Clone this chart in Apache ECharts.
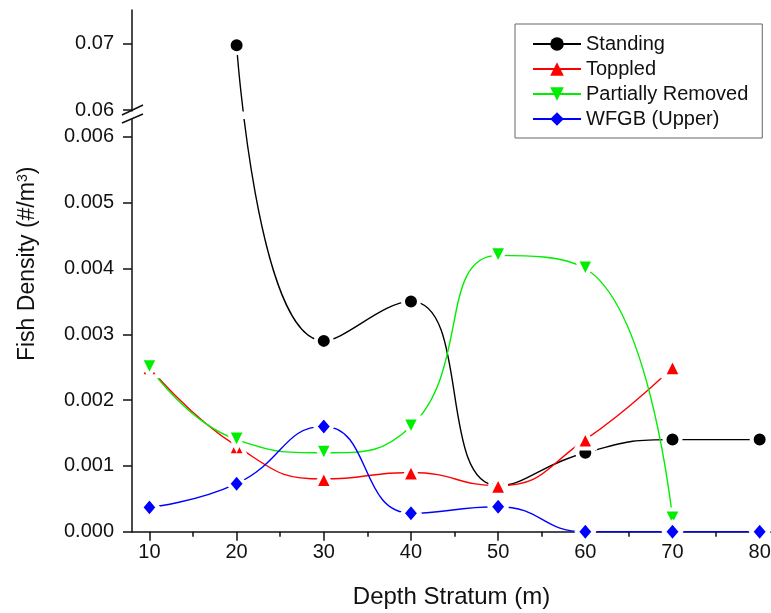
<!DOCTYPE html>
<html><head><meta charset="utf-8">
<script src="https://cdn.jsdelivr.net/npm/echarts@6/dist/echarts.min.js"></script>
<style>html,body{margin:0;padding:0;background:#fff}#c{width:771px;height:613px}</style>
</head><body><div id="c"></div>
<script>
// ---- data ----
const depths = [10, 20, 30, 40, 50, 60, 70, 80];
const standing = [null, 0.0697, 0.0029, 0.0035, 0.0007, 0.0012, 0.0014, 0.0014];
const toppled = [0.0025, 0.0013, 0.0008, 0.0009, 0.0007, 0.0014, 0.0025, null];
const partiallyRemoved = [0.0025, 0.0014, 0.0012, 0.0016, 0.0042, 0.0040, 0.0002, null];
const wfgbUpper = [0.00037, 0.00073, 0.0016, 0.00028, 0.00038, 0, 0, 0];
const xTicks = [10, 20, 30, 40, 50, 60, 70, 80];
const xMinorTicks = [15, 25, 35, 45, 55, 65, 75];
const yTicksLower = [0, 0.001, 0.002, 0.003, 0.004, 0.005, 0.006];
const yTicksUpper = [0.06, 0.07];
const seriesNames = ['Standing', 'Toppled', 'Partially Removed', 'WFGB (Upper)'];

// ---- broken y axis: lower segment 0..0.0062 linear, upper segment 0.06.. compressed ----
const UP_BASE = 0.06, UP_D0 = 0.0064088, UP_K = 0.10137, Y_MAX = 0.0079286;
function toAxis(v) { return v < 0.03 ? v : UP_D0 + (v - UP_BASE) * UP_K; }
function fromAxis(d) { return d > 0.0063 ? (d - UP_D0) / UP_K + UP_BASE : d; }
const yTickPos = yTicksLower.concat(yTicksUpper).map(toAxis);

function pairs(vals) {
  const out = [];
  depths.forEach((x, i) => { if (vals[i] !== null) out.push([x, toAxis(vals[i])]); });
  return out;
}

const FONT = "'Liberation Sans', Arial, sans-serif";
const chart = echarts.init(document.getElementById('c'), null, { renderer: 'canvas' });

function lineSeries(name, vals, color, symbol, size, rotate) {
  return {
    type: 'line', name: name, data: pairs(vals),
    smooth: 0.5, symbol: symbol, symbolSize: size, symbolRotate: rotate || 0,
    lineStyle: { color: color, width: 1.4 },
    itemStyle: { color: color, borderColor: '#fff', borderWidth: 4 },
    emphasis: { disabled: true }
  };
}

const option = {
  animation: false,
  backgroundColor: '#fff',
  textStyle: { fontFamily: FONT },
  grid: { left: 132, right: 0, top: 10, bottom: 81.3, containLabel: false, outerBoundsMode: 'none' },
  legend: {
    orient: 'vertical', left: 515, top: 24,
    padding: [10, 14, 9, 17], itemGap: 5, itemWidth: 48, itemHeight: 17,
    backgroundColor: '#fff', borderColor: '#666', borderWidth: 1, z: 20,
    textStyle: { fontSize: 20, fontFamily: FONT, color: '#111', lineHeight: 20 },
    itemStyle: { borderWidth: 0 },
    data: seriesNames
  },
  xAxis: [{
    type: 'value', min: 8, max: 81.3,
    axisLine: { lineStyle: { color: '#111', width: 1.5 } },
    axisTick: { customValues: xTicks, length: 9, lineStyle: { color: '#111', width: 1.5 } },
    axisLabel: { customValues: xTicks, fontSize: 20, color: '#111', margin: 11, fontFamily: FONT },
    splitLine: { show: false },
    name: 'Depth Stratum (m)', nameLocation: 'middle', nameGap: 54,
    nameTextStyle: { fontSize: 24, color: '#111', fontFamily: FONT }
  }, {
    type: 'value', min: 8, max: 81.3, position: 'bottom', offset: 0,
    axisLine: { show: false },
    axisTick: { customValues: xMinorTicks, length: 5, lineStyle: { color: '#111', width: 1.5 } },
    axisLabel: { show: false }, splitLine: { show: false }
  }],
  yAxis: {
    type: 'value', min: 0, max: Y_MAX,
    axisLine: { show: true, lineStyle: { color: '#111', width: 1.5 } },
    axisTick: { show: true, customValues: yTickPos, length: 9, lineStyle: { color: '#111', width: 1.5 } },
    axisLabel: {
      customValues: yTickPos, fontSize: 20, color: '#111', margin: 18, fontFamily: FONT,
      formatter: function (value) {
        const v = fromAxis(value);
        return value > 0.0063 ? v.toFixed(2) : v.toFixed(3);
      }
    },
    splitLine: { show: false },
    name: 'Fish Density (#/m{sup|3})', nameLocation: 'middle', nameGap: 93,
    nameTextStyle: {
      fontSize: 23, color: '#111', fontFamily: FONT, padding: [0, 0, 0, 14],
      rich: { sup: { fontSize: 14, verticalAlign: 'top', lineHeight: 23, padding: [0, 0, 12, 0], fontFamily: FONT, color: '#111' } }
    }
  },
  series: [
    lineSeries(seriesNames[0], standing, '#000000', 'circle', 16),
    lineSeries(seriesNames[1], toppled, '#ff0000', 'triangle', 18),
    lineSeries(seriesNames[2], partiallyRemoved, '#00ee00', 'triangle', 18, 180),
    lineSeries(seriesNames[3], wfgbUpper, '#0000ff', 'diamond', [17, 20])
  ]
};
chart.setOption(option);

// break decoration on the y axis
const p06 = chart.convertToPixel({ yAxisIndex: 0 }, toAxis(0.06));
const ax = chart.convertToPixel({ xAxisIndex: 0 }, 8);
chart.setOption({
  graphic: [
    { type: 'rect', z: 10, shape: { x: ax - 2, y: p06 + 1.5, width: 380, height: 7.5 }, style: { fill: '#fff' } },
    { type: 'line', z: 11, shape: { x1: ax - 10, y1: p06 + 5, x2: ax + 11, y2: p06 - 5 }, style: { stroke: '#111', lineWidth: 1.5 } },
    { type: 'line', z: 11, shape: { x1: ax - 10, y1: p06 + 13, x2: ax + 11, y2: p06 + 4 }, style: { stroke: '#111', lineWidth: 1.5 } }
  ]
});
</script>
</body></html>
